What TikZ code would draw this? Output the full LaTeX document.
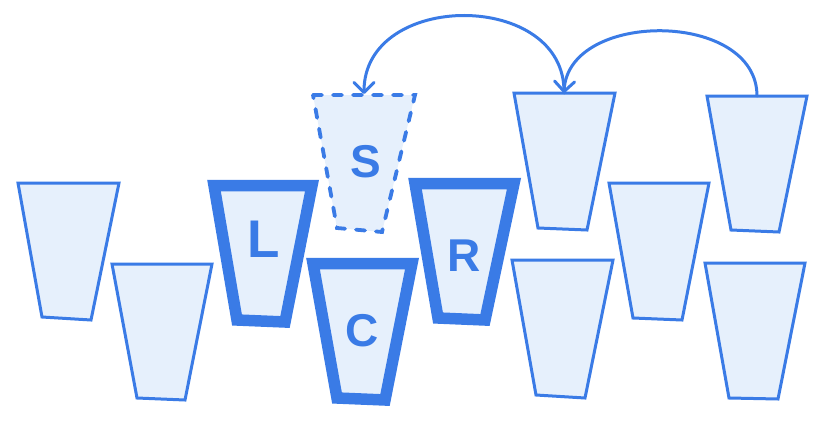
\documentclass[tikz,border=0pt]{standalone}
\usepackage{fontspec}
\setmainfont{Liberation Sans}
\usetikzlibrary{arrows.meta}
\definecolor{cupblue}{HTML}{3A7BE6}
\definecolor{cupfill}{HTML}{E6F0FC}
\begin{document}
\begin{tikzpicture}[x=1pt,y=-1pt,
  cup/.style={draw=cupblue, fill=cupfill, line width=3pt, line join=miter},
  thickcup/.style={cup, line width=11.5pt},
  ghostcup/.style={cup, line width=3.8pt, dash pattern=on 9pt off 11pt, line cap=round},
  swaparrow/.style={draw=cupblue, line width=3pt, line cap=round, -{Straight Barb[length=10pt,width=20pt,round]}},
  letter/.style={text=cupblue, font=\fontsize{46}{46}\selectfont\bfseries, inner sep=0pt}]
\useasboundingbox (0,0) rectangle (824,428);
% plain cups
\draw[cup] (18,183) -- (119,183) -- (91,320) -- (42,317) -- cycle;
\draw[cup] (112,264) -- (212,264) -- (185,400) -- (137,398) -- cycle;
\draw[cup] (514,93) -- (615,93) -- (587,230) -- (538,228) -- cycle;
\draw[cup] (512,260) -- (613,260) -- (585,398) -- (536,395) -- cycle;
\draw[cup] (609,183) -- (709,183) -- (682,320) -- (633,318) -- cycle;
\draw[cup] (707,96) -- (807,96) -- (779,232) -- (731,230) -- cycle;
\draw[cup] (705,263) -- (805,263) -- (778,399) -- (729,398) -- cycle;
% highlighted cups
\draw[thickcup] (214,185.5) -- (312,185.5) -- (285,322) -- (237,320) -- cycle;
\draw[thickcup] (313,263.5) -- (412,263.5) -- (385,400) -- (337,398) -- cycle;
\draw[thickcup] (415,183.5) -- (514,183.5) -- (485,320) -- (438,318) -- cycle;
% ghost cup
\draw[ghostcup] (313,95) -- (415,95) -- (382,232) -- (337,228) -- cycle;
% letters
\node[letter, font=\fontsize{53}{53}\selectfont\bfseries] (Llab) at (264,239) {L};
\node[letter] (Slab) at (366,162) {S};
\node[letter] (Clab) at (362,331) {C};
\node[letter] (Rlab) at (464,256) {R};
% arrow end points
\coordinate (Atop) at (564,93);
\coordinate (Stop) at (364,94);
\coordinate (Btop) at (757,96);
\draw[swaparrow] (Atop) .. controls (566,-10) and (364,-10) .. (Stop);
\draw[swaparrow] (Btop) .. controls (757,10) and (568,10) .. (Atop);
\end{tikzpicture}
\end{document}
